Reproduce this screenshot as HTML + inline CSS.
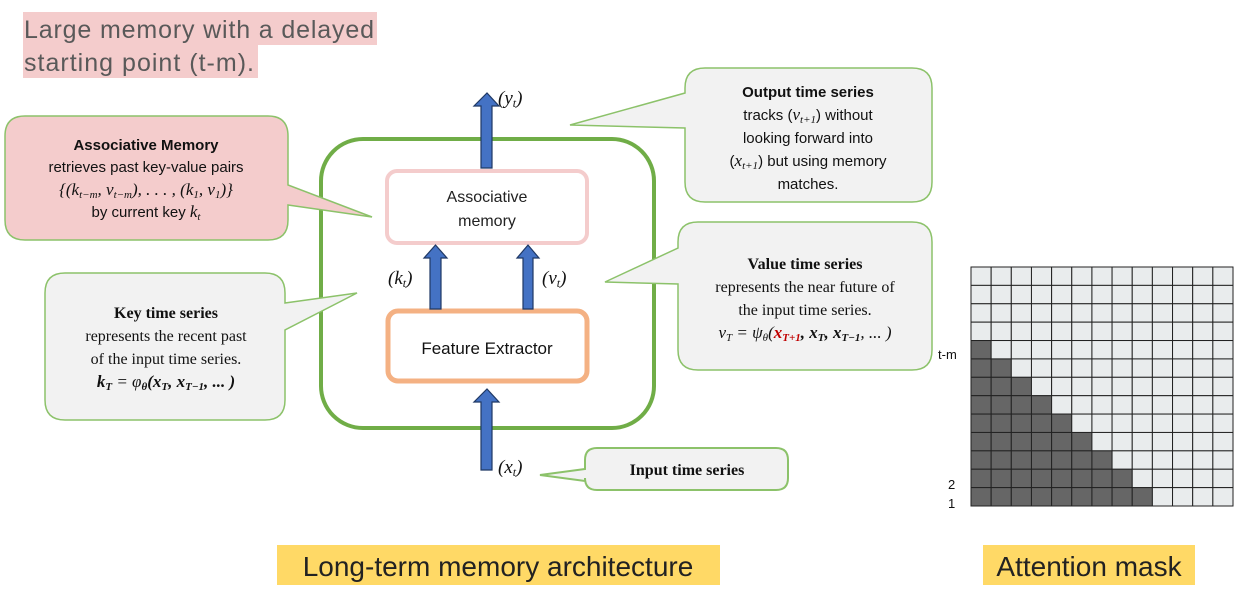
<!DOCTYPE html>
<html><head><meta charset="utf-8"><style>
body{margin:0;background:#fff;}
svg{display:block}
.s{font-family:"Liberation Sans",sans-serif}
.r{font-family:"Liberation Serif",serif}
</style></head><body>
<svg width="1246" height="595" viewBox="0 0 1246 595" xmlns="http://www.w3.org/2000/svg">
<rect x="23" y="12" width="354" height="33" fill="#f4cccc"/>
<rect x="23" y="44" width="235" height="34" fill="#f4cccc"/>
<text x="24" y="38" class="s" font-size="25" fill="#595959" textLength="350">Large memory with a delayed</text>
<text x="24" y="71" class="s" font-size="25" fill="#595959" textLength="230">starting point (t-m).</text>

<rect x="277" y="545" width="443" height="40" fill="#ffd966"/>
<text x="498" y="576" class="s" font-size="28" fill="#222" text-anchor="middle">Long-term memory architecture</text>
<rect x="983" y="545" width="212" height="40" fill="#ffd966"/>
<text x="1089" y="576" class="s" font-size="28" fill="#222" text-anchor="middle">Attention mask</text>

<rect x="321" y="139" width="333" height="289" rx="42" fill="none" stroke="#70ad47" stroke-width="4"/>

<path d="M25,116 H268 Q288,116 288,136 V185 L372,217 L288,205 V220 Q288,240 268,240 H25 Q5,240 5,220 V136 Q5,116 25,116 Z" fill="#f4cccc" stroke="#8cc26a" stroke-width="1.5"/>
<text x="146" y="150" class="s" font-size="15" font-weight="bold" text-anchor="middle" fill="#111">Associative Memory</text>
<text x="146" y="172" class="s" font-size="15" text-anchor="middle" fill="#111">retrieves past key-value pairs</text>
<text x="146" y="195" class="r" font-size="17" font-style="italic" text-anchor="middle" fill="#111">{(k<tspan font-size="11" dy="3">t−m</tspan><tspan dy="-3">, v</tspan><tspan font-size="11" dy="3">t−m</tspan><tspan dy="-3">), . . . , (k</tspan><tspan font-size="11" dy="3">1</tspan><tspan dy="-3">, v</tspan><tspan font-size="11" dy="3">1</tspan><tspan dy="-3">)}</tspan></text>
<text x="146" y="217" class="s" font-size="15" text-anchor="middle" fill="#111">by current key <tspan class="r" font-style="italic" font-size="17">k</tspan><tspan class="r" font-style="italic" font-size="11" dy="3">t</tspan></text>

<path d="M65,273 H265 Q285,273 285,293 V303 L357,293 L285,330 V400 Q285,420 265,420 H65 Q45,420 45,400 V293 Q45,273 65,273 Z" fill="#f2f2f2" stroke="#8cc26a" stroke-width="1.5"/>
<text x="166" y="318" class="r" font-size="16" font-weight="bold" text-anchor="middle" fill="#111">Key time series</text>
<text x="166" y="341" class="r" font-size="16" text-anchor="middle" fill="#111">represents the recent past</text>
<text x="166" y="364" class="r" font-size="16" text-anchor="middle" fill="#111">of the input time series.</text>
<text x="166" y="387" class="r" font-size="17" font-style="italic" font-weight="bold" text-anchor="middle" fill="#111">k<tspan font-size="11" dy="3">T</tspan><tspan dy="-3" font-weight="normal"> = φ</tspan><tspan font-size="11" dy="3">θ</tspan><tspan dy="-3">(x</tspan><tspan font-size="11" dy="3">T</tspan><tspan dy="-3">, x</tspan><tspan font-size="11" dy="3">T−1</tspan><tspan dy="-3">, ... )</tspan></text>

<path d="M705,68 H912 Q932,68 932,88 V182 Q932,202 912,202 H705 Q685,202 685,182 V128 L570,125 L685,93 V88 Q685,68 705,68 Z" fill="#f2f2f2" stroke="#8cc26a" stroke-width="1.5"/>
<text x="808" y="97" class="s" font-size="15" font-weight="bold" text-anchor="middle" fill="#111">Output time series</text>
<text x="808" y="120" class="s" font-size="15" text-anchor="middle" fill="#111">tracks (<tspan class="r" font-style="italic" font-size="17">v</tspan><tspan class="r" font-style="italic" font-size="11" dy="3">t+1</tspan><tspan dy="-3">) without</tspan></text>
<text x="808" y="143" class="s" font-size="15" text-anchor="middle" fill="#111">looking forward into</text>
<text x="808" y="166" class="s" font-size="15" text-anchor="middle" fill="#111">(<tspan class="r" font-style="italic" font-size="17">x</tspan><tspan class="r" font-style="italic" font-size="11" dy="3">t+1</tspan><tspan dy="-3">) but using memory</tspan></text>
<text x="808" y="189" class="s" font-size="15" text-anchor="middle" fill="#111">matches.</text>

<path d="M698,222 H912 Q932,222 932,242 V350 Q932,370 912,370 H698 Q678,370 678,350 V284 L605,282 L678,248 V242 Q678,222 698,222 Z" fill="#f2f2f2" stroke="#8cc26a" stroke-width="1.5"/>
<text x="805" y="269" class="r" font-size="16" font-weight="bold" text-anchor="middle" fill="#111">Value time series</text>
<text x="805" y="292" class="r" font-size="16" text-anchor="middle" fill="#111">represents the near future of</text>
<text x="805" y="315" class="r" font-size="16" text-anchor="middle" fill="#111">the input time series.</text>
<text x="805" y="338" class="r" font-size="17" font-style="italic" text-anchor="middle" fill="#111">v<tspan font-size="11" dy="3">T</tspan><tspan dy="-3"> = ψ</tspan><tspan font-size="11" dy="3">θ</tspan><tspan dy="-3">(</tspan><tspan fill="#c00000" font-weight="bold">x</tspan><tspan fill="#c00000" font-weight="bold" font-size="11" dy="3">T+1</tspan><tspan dy="-3" font-weight="bold">, x</tspan><tspan font-weight="bold" font-size="11" dy="3">T</tspan><tspan dy="-3" font-weight="bold">, x</tspan><tspan font-weight="bold" font-size="11" dy="3">T−1</tspan><tspan dy="-3">, ... )</tspan></text>

<path d="M597,448 H776 Q788,448 788,460 V478 Q788,490 776,490 H597 Q585,490 585,478 V481 L540,475 L585,469 V460 Q585,448 597,448 Z" fill="#f2f2f2" stroke="#8cc26a" stroke-width="2"/>
<text x="687" y="475" class="r" font-size="16" font-weight="bold" text-anchor="middle" fill="#111">Input time series</text>

<rect x="387" y="171" width="200" height="72" rx="10" fill="#fff" stroke="#f4cccc" stroke-width="4"/>
<text x="487" y="202" class="s" font-size="16" text-anchor="middle" fill="#222">Associative</text>
<text x="487" y="226" class="s" font-size="16" text-anchor="middle" fill="#222">memory</text>
<rect x="388" y="311" width="199" height="70" rx="10" fill="#fff" stroke="#f4b183" stroke-width="5"/>
<text x="487" y="354" class="s" font-size="17" text-anchor="middle" fill="#111">Feature Extractor</text>

<g fill="#4472c4" stroke="#1f3864" stroke-width="1.2">
<path d="M481,168 V106 H474 L487,93 L499,106 H492 V168 Z"/>
<path d="M430,309 V258 H424 L435.5,245 L447,258 H441 V309 Z"/>
<path d="M523,309 V258 H517 L528,245 L539,258 H533 V309 Z"/>
<path d="M481,470 V402 H474 L487,389 L499,402 H492 V470 Z"/>
</g>
<text x="498" y="104" class="r" font-size="19" font-style="italic" fill="#111">(y<tspan font-size="12" dy="3">t</tspan><tspan dy="-3">)</tspan></text>
<text x="388" y="284" class="r" font-size="19" font-style="italic" fill="#111">(k<tspan font-size="12" dy="3">t</tspan><tspan dy="-3">)</tspan></text>
<text x="542" y="284" class="r" font-size="19" font-style="italic" fill="#111">(v<tspan font-size="12" dy="3">t</tspan><tspan dy="-3">)</tspan></text>
<text x="498" y="473" class="r" font-size="19" font-style="italic" fill="#111">(x<tspan font-size="12" dy="3">t</tspan><tspan dy="-3">)</tspan></text>

<g id="grid" stroke="#222" stroke-width="1"></g>
<text x="938" y="359" class="s" font-size="13" fill="#111">t-m</text>
<text x="948" y="489" class="s" font-size="13" fill="#111">2</text>
<text x="948" y="508" class="s" font-size="13" fill="#111">1</text>
</svg>
<script>
(function(){
var g=document.getElementById('grid');var ns='http://www.w3.org/2000/svg';
var x0=971,y0=267,w=(1233-971)/13,h=(506-267)/13;
for(var r=0;r<13;r++)for(var c=0;c<13;c++){
var e=document.createElementNS(ns,'rect');
e.setAttribute('x',x0+c*w);e.setAttribute('y',y0+r*h);
e.setAttribute('width',w);e.setAttribute('height',h);
e.setAttribute('fill',(r>=4&&c<r-3)?'#666666':'#e9eced');
g.appendChild(e);}
})();
</script>
</body></html>
